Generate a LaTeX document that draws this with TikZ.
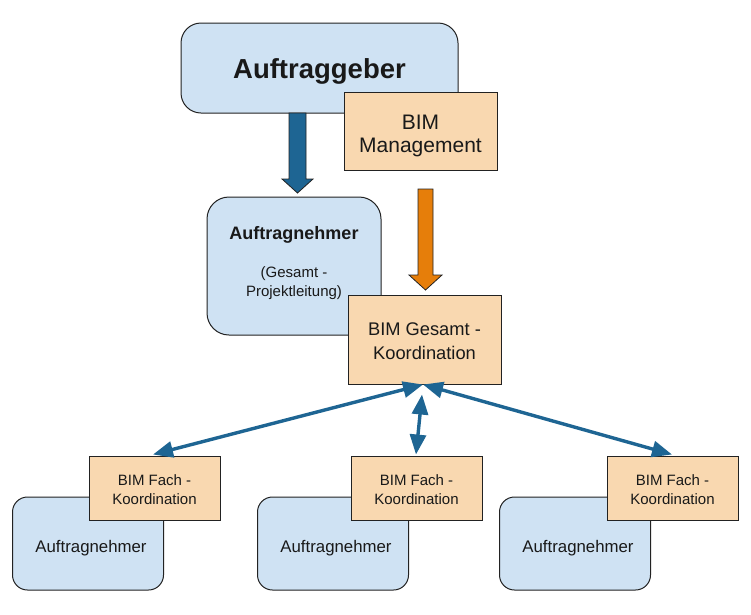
\documentclass[tikz,border=0pt]{standalone}
\usepackage{fontspec}
\setmainfont{Liberation Sans}
\usetikzlibrary{arrows.meta,calc}
\definecolor{boxblue}{HTML}{CFE2F3}
\definecolor{boxorange}{HTML}{F9D8B0}
\definecolor{arrowblue}{HTML}{1E6593}
\definecolor{arroworange}{HTML}{E67E0A}
\definecolor{edge}{HTML}{222222}
\tikzset{
  bluebox/.style={draw=edge, line width=1pt, fill=boxblue, rectangle, inner sep=0pt},
  orangebox/.style={draw=edge, line width=1pt, fill=boxorange, rectangle, inner sep=0pt},
  blockarrow/.style={draw=edge, line width=0.8pt},
  twoway/.style={draw=arrowblue, line width=3.4pt, {Triangle[length=20pt,width=16pt]}-{Triangle[length=20pt,width=16pt]}},
  lbl/.style={inner sep=0pt, align=center, text=black!90}
}
\begin{document}
\begin{tikzpicture}[x=1pt,y=-1pt]
\useasboundingbox (0,0) rectangle (751,614);
% top
\node[bluebox, rounded corners=20pt, minimum width=277pt, minimum height=90pt] (ag) at (319.5,68) {};
\node[lbl, font=\fontsize{27.5}{32}\selectfont\bfseries] (agt) at ($(ag.center)+(0,3)$) {Auftraggeber};
\node[orangebox, minimum width=153pt, minimum height=78pt] (bm) at (420.5,131) {};
\node[lbl, font=\fontsize{21}{23.5}\selectfont] (bmt) at ($(bm.center)+(0,5)$) {BIM\\Management};
% blue block arrow
\draw[blockarrow, fill=arrowblue] (289,113) -- (289,179) -- (282,179) -- (297.5,193)
   -- (313,179) -- (306,179) -- (306,113) -- cycle;
% middle
\node[bluebox, rounded corners=22pt, minimum width=174pt, minimum height=138pt] (an) at (294,266) {};
\node[lbl, font=\fontsize{18}{22}\selectfont\bfseries] (antitle) at (294,235) {Auftragnehmer};
\node[lbl, font=\fontsize{15}{19}\selectfont] (ansub) at (294,283) {(Gesamt -\\Projektleitung)};
\node[orangebox, minimum width=153pt, minimum height=89pt] (gk) at (424.5,339.5) {};
\node[lbl, font=\fontsize{18.3}{24}\selectfont] (gkt) at ($(gk.center)+(0,2)$) {BIM Gesamt -\\Koordination};
% orange block arrow
\draw[blockarrow, fill=arroworange] (418,189) -- (418,275) -- (409,275) -- (425.5,290)
   -- (442,275) -- (433,275) -- (433,189) -- cycle;
% bottom
\foreach \i/\ax/\fx in {1/88/154.5, 2/333/416.5, 3/575/672.5}{
  \node[bluebox, rounded corners=15pt, minimum width=151pt, minimum height=93pt] (anb\i) at (\ax,543.5) {};
  \node[lbl, font=\fontsize{16.8}{19}\selectfont] (anbt\i) at ($(anb\i.center)+(3,5)$) {Auftragnehmer};
  \node[orangebox, minimum width=131pt, minimum height=64pt] (fk\i) at (\fx,488) {};
  \node[lbl, font=\fontsize{15}{19}\selectfont] (fkt\i) at ($(fk\i.center)+(0,2)$) {BIM Fach -\\Koordination};
}
% two-way arrows
\coordinate (t1) at ($(gk.south)+(-1.5,0)$);
\coordinate (t2) at ($(gk.south)+(-2.5,10)$);
\coordinate (b1) at ($(fk1.north)+(-1.5,-1)$);
\coordinate (b2) at ($(fk2.north)+(-0.5,-1)$);
\coordinate (b3) at ($(fk3.north)+(-0.5,-1)$);
\draw[twoway] (t1) -- (b1);
\draw[twoway] (t2) -- (b2);
\draw[twoway] (t1) -- (b3);
\end{tikzpicture}
\end{document}
